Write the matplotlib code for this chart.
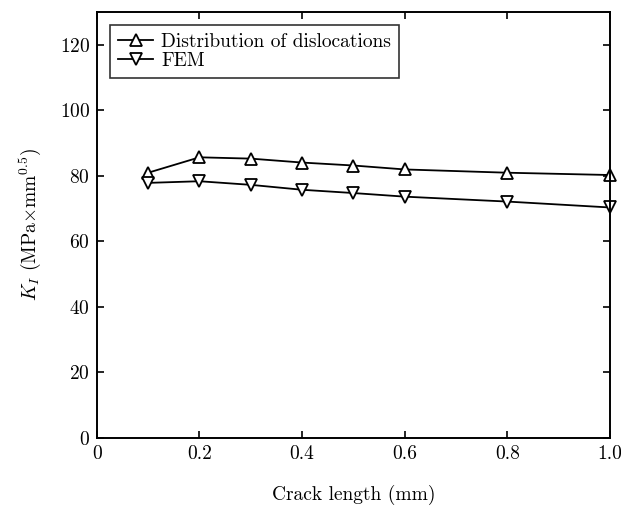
import matplotlib
matplotlib.use("Agg")
import matplotlib.pyplot as plt

# data
crack_len = [0.1, 0.2, 0.3, 0.4, 0.5, 0.6, 0.8, 1.0]
k_disloc = [80.9, 85.6, 85.2, 84.0, 83.1, 81.9, 80.9, 80.2]
k_fem = [77.8, 78.3, 77.2, 75.7, 74.7, 73.6, 72.1, 70.3]

x_ticks = [0, 0.2, 0.4, 0.6, 0.8, 1.0]
x_ticklabels = ["0", "0.2", "0.4", "0.6", "0.8", "1.0"]
y_ticks = [0, 20, 40, 60, 80, 100, 120]

plt.rcParams["font.family"] = ["cmr10", "DejaVu Serif"]
plt.rcParams["mathtext.fontset"] = "cm"
plt.rcParams["axes.formatter.use_mathtext"] = True

fig = plt.figure(figsize=(6.21, 5.11), dpi=100)
ax = fig.add_axes([0.156, 0.143, 0.826, 0.834])

mk = dict(color="black", markerfacecolor="white", markeredgecolor="black",
          markersize=9, markeredgewidth=1.3, linewidth=1.3, clip_on=False)
ax.plot(crack_len, k_disloc, marker="^", label="Distribution of dislocations", **mk)
ax.plot(crack_len, k_fem, marker="v", label="FEM", **mk)

ax.set_xlim(0, 1.0)
ax.set_ylim(0, 130)
ax.set_xticks(x_ticks)
ax.set_xticklabels(x_ticklabels)
ax.set_yticks(y_ticks)
ax.tick_params(direction="in", top=True, right=True, length=5, width=1.2,
               labelsize=14, pad=5)
for s in ax.spines.values():
    s.set_linewidth(1.4)

ax.set_xlabel("Crack length (mm)", fontsize=14, labelpad=16)
ax.set_ylabel(r"$K_I$ (MPa$\times$mm$^{0.5}$)", fontsize=14, labelpad=12)

leg = ax.legend(loc="upper left", fontsize=14, frameon=True, fancybox=False,
                edgecolor="black", handlelength=1.8, borderaxespad=0.7,
                borderpad=0.4, labelspacing=0.05, handletextpad=0.4)
leg.get_frame().set_linewidth(1.2)

fig.savefig("out.png", dpi=100)
